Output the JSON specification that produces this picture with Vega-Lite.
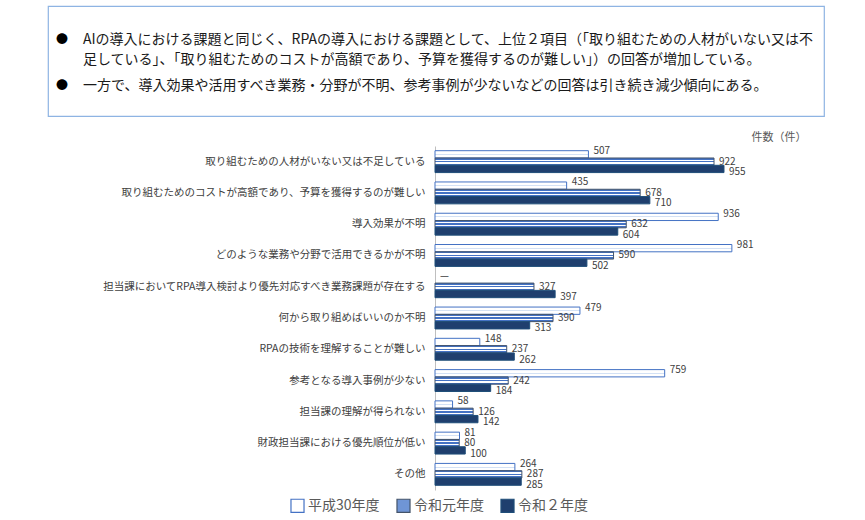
{
  "$schema": "https://vega.github.io/schema/vega-lite/v6.json",
  "background": "white",
  "padding": {"left": 47, "top": 5, "right": 5, "bottom": 5},
  "config": {"font": "Noto Sans CJK JP", "view": {"stroke": null}},
  "bounds": "flush",
  "spacing": 30,
  "vconcat": [
    {
      "width": 776,
      "height": 110,
      "view": {"stroke": "#8eb4e3", "strokeWidth": 1.2, "fill": "white"},
      "data": {"values": [
        {"para": 1, "text": "AIの導入における課題と同じく、RPAの導入における課題として、上位２項目（「取り組むための人材がいない又は不\n足している」、「取り組むためのコストが高額であり、予算を獲得するのが難しい」）の回答が増加している。"},
        {"para": 2, "text": "一方で、導入効果や活用すべき業務・分野が不明、参考事例が少ないなどの回答は引き続き減少傾向にある。"}
      ]},
      "encoding": {
        "y": {"field": "para", "type": "ordinal", "scale": {"type": "point", "range": [38, 84], "padding": 0}, "axis": null}
      },
      "layer": [
        {"mark": {"type": "text", "align": "left", "baseline": "alphabetic", "x": 8, "fontSize": 12, "color": "#000000", "text": "●"}},
        {"mark": {"type": "text", "align": "left", "baseline": "alphabetic", "x": 35, "fontSize": 14, "lineHeight": 20, "lineBreak": "\n", "color": "#1a1a1a"},
         "encoding": {"text": {"field": "text"}}}
      ]
    },
    {
      "width": 758,
      "height": 344,
      "data": {"values": [
        {"category": "取り組むための人材がいない又は不足している", "series": "平成30年度", "value": 507, "label": "507"},
        {"category": "取り組むための人材がいない又は不足している", "series": "令和元年度", "value": 922, "label": "922"},
        {"category": "取り組むための人材がいない又は不足している", "series": "令和２年度", "value": 955, "label": "955"},
        {"category": "取り組むためのコストが高額であり、予算を獲得するのが難しい", "series": "平成30年度", "value": 435, "label": "435"},
        {"category": "取り組むためのコストが高額であり、予算を獲得するのが難しい", "series": "令和元年度", "value": 678, "label": "678"},
        {"category": "取り組むためのコストが高額であり、予算を獲得するのが難しい", "series": "令和２年度", "value": 710, "label": "710"},
        {"category": "導入効果が不明", "series": "平成30年度", "value": 936, "label": "936"},
        {"category": "導入効果が不明", "series": "令和元年度", "value": 632, "label": "632"},
        {"category": "導入効果が不明", "series": "令和２年度", "value": 604, "label": "604"},
        {"category": "どのような業務や分野で活用できるかが不明", "series": "平成30年度", "value": 981, "label": "981"},
        {"category": "どのような業務や分野で活用できるかが不明", "series": "令和元年度", "value": 590, "label": "590"},
        {"category": "どのような業務や分野で活用できるかが不明", "series": "令和２年度", "value": 502, "label": "502"},
        {"category": "担当課においてRPA導入検討より優先対応すべき業務課題が存在する", "series": "平成30年度", "value": 0, "label": "—"},
        {"category": "担当課においてRPA導入検討より優先対応すべき業務課題が存在する", "series": "令和元年度", "value": 327, "label": "327"},
        {"category": "担当課においてRPA導入検討より優先対応すべき業務課題が存在する", "series": "令和２年度", "value": 397, "label": "397"},
        {"category": "何から取り組めばいいのか不明", "series": "平成30年度", "value": 479, "label": "479"},
        {"category": "何から取り組めばいいのか不明", "series": "令和元年度", "value": 390, "label": "390"},
        {"category": "何から取り組めばいいのか不明", "series": "令和２年度", "value": 313, "label": "313"},
        {"category": "RPAの技術を理解することが難しい", "series": "平成30年度", "value": 148, "label": "148"},
        {"category": "RPAの技術を理解することが難しい", "series": "令和元年度", "value": 237, "label": "237"},
        {"category": "RPAの技術を理解することが難しい", "series": "令和２年度", "value": 262, "label": "262"},
        {"category": "参考となる導入事例が少ない", "series": "平成30年度", "value": 759, "label": "759"},
        {"category": "参考となる導入事例が少ない", "series": "令和元年度", "value": 242, "label": "242"},
        {"category": "参考となる導入事例が少ない", "series": "令和２年度", "value": 184, "label": "184"},
        {"category": "担当課の理解が得られない", "series": "平成30年度", "value": 58, "label": "58"},
        {"category": "担当課の理解が得られない", "series": "令和元年度", "value": 126, "label": "126"},
        {"category": "担当課の理解が得られない", "series": "令和２年度", "value": 142, "label": "142"},
        {"category": "財政担当課における優先順位が低い", "series": "平成30年度", "value": 81, "label": "81"},
        {"category": "財政担当課における優先順位が低い", "series": "令和元年度", "value": 80, "label": "80"},
        {"category": "財政担当課における優先順位が低い", "series": "令和２年度", "value": 100, "label": "100"},
        {"category": "その他", "series": "平成30年度", "value": 264, "label": "264"},
        {"category": "その他", "series": "令和元年度", "value": 287, "label": "287"},
        {"category": "その他", "series": "令和２年度", "value": 285, "label": "285"}
      ]},
      "encoding": {
        "y": {
          "field": "category", "type": "nominal",
          "sort": ["取り組むための人材がいない又は不足している", "取り組むためのコストが高額であり、予算を獲得するのが難しい", "導入効果が不明", "どのような業務や分野で活用できるかが不明", "担当課においてRPA導入検討より優先対応すべき業務課題が存在する", "何から取り組めばいいのか不明", "RPAの技術を理解することが難しい", "参考となる導入事例が少ない", "担当課の理解が得られない", "財政担当課における優先順位が低い", "その他"],
          "scale": {"paddingInner": 0.3, "paddingOuter": 0.15},
          "axis": {"title": null, "offset": -387, "ticks": false, "labelPadding": 10, "labelFontSize": 10.5, "labelColor": "#404040", "labelLimit": 420, "domainColor": "#bfbfbf", "labelFont": "Noto Sans CJK JP"}
        },
        "x": {
          "field": "value", "type": "quantitative",
          "scale": {"domain": [0, 1226], "range": [387, 758], "nice": false, "zero": true},
          "axis": {"orient": "top", "labels": false, "ticks": false, "domain": false, "grid": false, "title": "件数（件）", "titleAnchor": "end", "titleFontSize": 11, "titleFontWeight": "normal", "titleColor": "#595959", "titlePadding": 4}
        }
      },
      "resolve": {"scale": {"yOffset": "independent"}},
      "layer": [
        {
          "transform": [{"filter": "datum.value > 0"}],
          "mark": {"type": "bar", "strokeWidth": 1},
          "encoding": {
            "yOffset": {"field": "series", "type": "nominal", "sort": ["平成30年度", "令和元年度", "令和２年度"], "scale": {"paddingInner": 0, "paddingOuter": 0}},
            "fill": {
              "field": "series", "type": "nominal",
              "condition": [
                {"test": "datum.series === '平成30年度'", "value": {"gradient": "linear", "x1": 0, "y1": 0, "x2": 0, "y2": 1, "stops": [{"offset": 0, "color": "#ffffff"}, {"offset": 0.44, "color": "#ffffff"}, {"offset": 0.44, "color": "#d3e1f5"}, {"offset": 0.56, "color": "#d3e1f5"}, {"offset": 0.56, "color": "#ffffff"}, {"offset": 1, "color": "#ffffff"}]}},
                {"test": "datum.series === '令和元年度'", "value": {"gradient": "linear", "x1": 0, "y1": 0, "x2": 0, "y2": 1, "stops": [{"offset": 0, "color": "#4472c4"}, {"offset": 0.22, "color": "#4472c4"}, {"offset": 0.22, "color": "#ffffff"}, {"offset": 0.4, "color": "#ffffff"}, {"offset": 0.4, "color": "#4472c4"}, {"offset": 0.6, "color": "#4472c4"}, {"offset": 0.6, "color": "#ffffff"}, {"offset": 0.78, "color": "#ffffff"}, {"offset": 0.78, "color": "#4472c4"}, {"offset": 1, "color": "#4472c4"}]}}
              ],
              "scale": {"domain": ["平成30年度", "令和元年度", "令和２年度"], "range": ["#ffffff", "#6f95d6", "#1f3f6e"]},
              "legend": {"title": null, "orient": "none", "legendX": 242, "legendY": 492, "direction": "horizontal", "symbolType": "square", "symbolSize": 170, "symbolStrokeWidth": 1.2, "labelFontSize": 14, "labelColor": "#595959", "labelFont": "Noto Sans CJK JP", "labelOffset": 3, "columnPadding": 14}
            },
            "stroke": {
              "field": "series", "type": "nominal",
              "scale": {"domain": ["平成30年度", "令和元年度", "令和２年度"], "range": ["#4472c4", "#44546a", "#1f4e79"]},
              "legend": {"title": null, "orient": "none", "legendX": 242, "legendY": 492, "direction": "horizontal", "symbolType": "square", "symbolSize": 170, "symbolStrokeWidth": 1.2, "labelFontSize": 14, "labelColor": "#595959", "labelFont": "Noto Sans CJK JP", "labelOffset": 3, "columnPadding": 14}
            }
          }
        },
        {
          "mark": {"type": "text", "align": "left", "baseline": "middle", "dx": 5, "fontSize": 10, "color": "#404040"},
          "encoding": {
            "yOffset": {"field": "series", "type": "nominal", "sort": ["平成30年度", "令和元年度", "令和２年度"], "scale": {"type": "point", "padding": 0.05}},
            "text": {"field": "label"}
          }
        }
      ]
    }
  ]
}
